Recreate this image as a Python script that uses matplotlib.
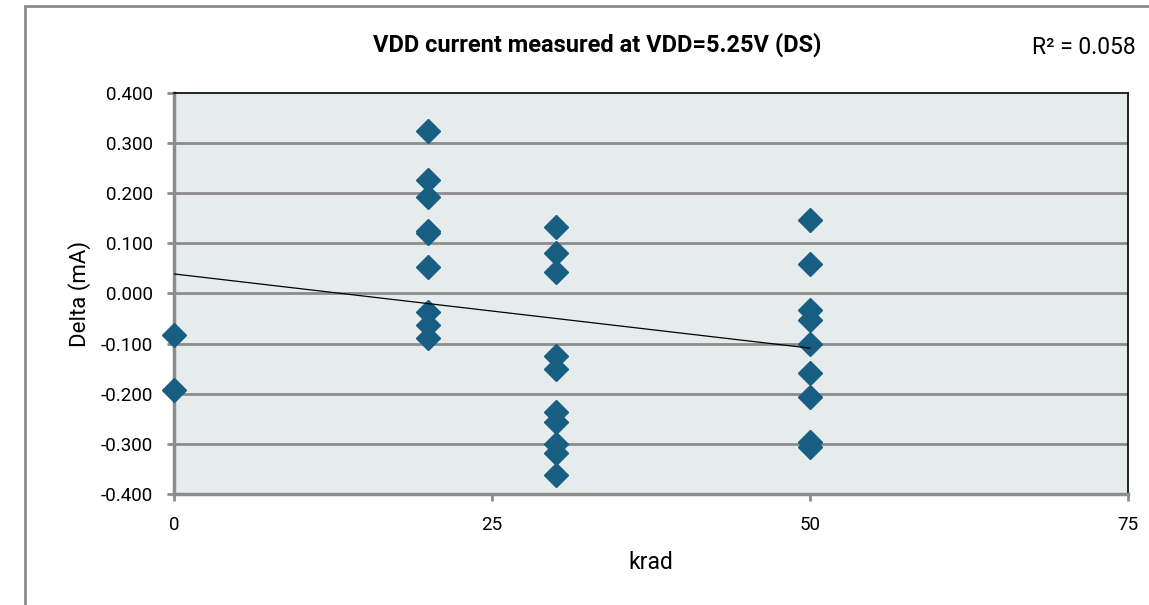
#!/usr/bin/env python3
"""VDD current measured at VDD=5.25V (DS) - scatter of delta vs dose"""

import matplotlib
matplotlib.use("Agg")
import matplotlib.pyplot as plt
from matplotlib.patches import Rectangle

# dose points (krad) and measured deltas (mA)
krad_0 = [0, 0]
delta_0 = [-0.082, -0.193]

krad_20 = [20] * 9
delta_20 = [0.325, 0.226, 0.193, 0.125, 0.120, 0.053, -0.036, -0.063, -0.088]

krad_30 = [30] * 10
delta_30 = [0.132, 0.080, 0.043, -0.124, -0.151, -0.237, -0.256, -0.300, -0.318, -0.362]

krad_50 = [50] * 9
delta_50 = [0.147, 0.059, -0.033, -0.053, -0.100, -0.159, -0.206, -0.296, -0.306]

# linear trendline as shown in the chart
trend_x = [0, 50]
trend_y = [0.039, -0.109]
r2_text = "R² = 0.058"

x_ticks = [0, 25, 50, 75]
y_ticks = [-0.4, -0.3, -0.2, -0.1, 0.0, 0.1, 0.2, 0.3, 0.4]

plt.rcParams["font.family"] = ["Roboto", "DejaVu Sans"]

fig = plt.figure(figsize=(11.49, 6.05), dpi=100)
ax = fig.add_axes([0.1514, 0.1835, 0.8303, 0.6628])
ax.set_facecolor("#e6ecec")

# 图外框
fig.patches.append(Rectangle((0.0218, -0.2), 1.3, 1.19, transform=fig.transFigure,
                             fill=False, edgecolor="#8c8c8c", lw=2, clip_on=False))

for yv in y_ticks[1:-1]:
    ax.axhline(yv, color="#8c8c8c", lw=2, zorder=1)

xs = krad_0 + krad_20 + krad_30 + krad_50
ys = delta_0 + delta_20 + delta_30 + delta_50
ax.plot(xs, ys, linestyle="none", marker="D", markersize=12.5,
        color="#175e82", zorder=3, clip_on=False)
ax.plot(trend_x, trend_y, color="black", lw=0.9, zorder=4)

ax.set_xlim(0, 75)
ax.set_ylim(-0.4, 0.4)
ax.set_xticks(x_ticks)
ax.set_yticks(y_ticks)
ax.set_yticklabels([f"{v:.3f}" for v in y_ticks])

for side in ("left", "bottom"):
    ax.spines[side].set_color("#8c8c8c")
    ax.spines[side].set_linewidth(2.5)
for side in ("top", "right"):
    ax.spines[side].set_color("black")
    ax.spines[side].set_linewidth(1.2)

ax.tick_params(axis="both", colors="#8c8c8c", width=2, length=5, labelcolor="black",
               labelsize=13.5)
ax.tick_params(axis="x", pad=11)
ax.tick_params(axis="y", pad=10)

ax.set_xlabel("krad", fontsize=16.5, labelpad=12)
ax.set_ylabel("Delta (mA)", fontsize=16, labelpad=7)

fig.text(0.52, 0.9256, "VDD current measured at VDD=5.25V (DS)", ha="center",
         va="center", fontsize=17, fontweight="bold")
fig.text(0.943, 0.922, r2_text, ha="center", va="center", fontsize=16.5)

fig.savefig("out.png", dpi=100)
